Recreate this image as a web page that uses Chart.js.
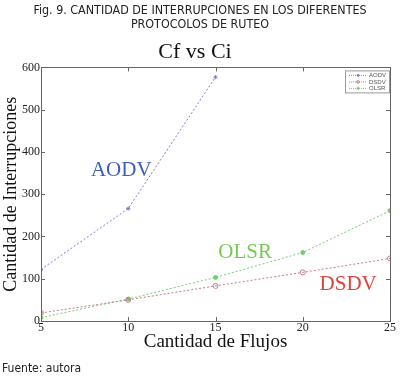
<!DOCTYPE html>
<html>
<head>
<meta charset="utf-8">
<script src="https://cdn.jsdelivr.net/npm/chart.js@4.4.1/dist/chart.umd.min.js"></script>
<style>
  html, body { margin: 0; padding: 0; background: #fff; }
  #wrap { position: relative; width: 400px; height: 376px; overflow: hidden; }
  #grafico { position: absolute; left: 0; top: 0; }
  .cab {
    position: absolute; left: 0; width: 400px; top: 3px;
    text-align: center; font-family: "Liberation Sans Narrow", "DejaVu Sans Condensed", "Liberation Sans", sans-serif;
    font-size: 12.4px; line-height: 14px; color: #222;
  }
  .fuente {
    position: absolute; left: 2px; top: 361px;
    font-family: "Liberation Sans Narrow", "DejaVu Sans Condensed", "Liberation Sans", sans-serif;
    font-size: 12px; color: #222;
  }
</style>
</head>
<body>
<div id="wrap">
  <canvas id="grafico" width="400" height="376"></canvas>
  <div class="cab">Fig. 9. CANTIDAD DE INTERRUPCIONES EN LOS DIFERENTES<br>PROTOCOLOS DE RUTEO</div>
  <div class="fuente">Fuente: autora</div>
</div>
<script>
// Datos
const flujos = [5, 10, 15, 20, 25];
const aodv = [122, 266, 577];
const dsdv = [19, 50, 83, 115, 148];
const olsr = [8, 52, 103, 162, 261];
const ticksX = [5, 10, 15, 20, 25];
const ticksY = [0, 100, 200, 300, 400, 500, 600];

// Etiquetas dentro del gráfico (coordenadas en datos)
const etiquetas = [
  { texto: 'AODV', x: 9.6, y: 357, color: '#3b5fc0' },
  { texto: 'OLSR', x: 16.7, y: 161, color: '#77c957' },
  { texto: 'DSDV', x: 22.6, y: 87, color: '#d9443f' }
];

const serif = '"Liberation Serif", "DejaVu Serif", serif';

const pares = (ys) => ys.map((v, i) => ({ x: flujos[i], y: v }));

const marcoPlugin = {
  id: 'marco',
  afterDatasetsDraw(chart) {
    const c = chart.ctx;
    const a = chart.chartArea;
    const sx = chart.scales.x, sy = chart.scales.y;
    c.save();
    // caja
    c.strokeStyle = '#666';
    c.lineWidth = 1;
    c.strokeRect(Math.round(a.left) + 0.5, Math.round(a.top) + 0.5, Math.round(a.right - a.left), Math.round(a.bottom - a.top));
    // marcas hacia adentro
    c.beginPath();
    ticksX.forEach(t => {
      const px = Math.round(sx.getPixelForValue(t)) + 0.5;
      c.moveTo(px, a.bottom); c.lineTo(px, a.bottom - 4);
      c.moveTo(px, a.top); c.lineTo(px, a.top + 4);
    });
    ticksY.forEach(t => {
      const py = Math.round(sy.getPixelForValue(t)) + 0.5;
      c.moveTo(a.left, py); c.lineTo(a.left + 4, py);
      c.moveTo(a.right, py); c.lineTo(a.right - 4, py);
    });
    c.stroke();
    // etiquetas de protocolos
    c.font = '21px ' + serif;
    c.textAlign = 'center';
    c.textBaseline = 'middle';
    etiquetas.forEach(e => {
      c.fillStyle = e.color;
      c.fillText(e.texto, sx.getPixelForValue(e.x), sy.getPixelForValue(e.y));
    });
    // leyenda pequeña
    const bx = a.right - 45, by = a.top + 3, bw = 45, bh = 23;
    c.fillStyle = '#fff';
    c.fillRect(bx, by, bw, bh);
    c.strokeStyle = '#999';
    c.strokeRect(bx + 0.5, by + 0.5, bw - 1, bh - 1);
    c.font = '6px "Liberation Sans", sans-serif';
    c.textAlign = 'left';
    chart.data.datasets.forEach((ds, i) => {
      const ly = by + 5 + i * 6.5;
      c.strokeStyle = ds.borderColor;
      c.setLineDash([1, 1]);
      c.beginPath(); c.moveTo(bx + 4, ly); c.lineTo(bx + 22, ly); c.stroke();
      c.setLineDash([]);
      c.beginPath(); c.arc(bx + 13, ly, 1.3, 0, Math.PI * 2);
      if (i === 1) { c.stroke(); } else { c.fillStyle = ds.borderColor; c.fill(); }
      c.fillStyle = '#555';
      c.fillText(ds.label, bx + 24, ly);
    });
    c.restore();
  }
};

new Chart(document.getElementById('grafico').getContext('2d'), {
  type: 'line',
  data: {
    datasets: [
      {
        label: 'AODV',
        data: pares(aodv),
        borderColor: '#7b7fd6',
        backgroundColor: '#7b7fd6',
        borderWidth: 1,
        borderDash: [2, 2],
        pointStyle: 'star',
        pointRadius: 2,
        tension: 0
      },
      {
        label: 'DSDV',
        data: pares(dsdv),
        borderColor: '#c77b88',
        backgroundColor: 'rgba(0,0,0,0)',
        borderWidth: 1,
        borderDash: [2, 2],
        pointStyle: 'circle',
        pointRadius: 2.5,
        tension: 0
      },
      {
        label: 'OLSR',
        data: pares(olsr),
        borderColor: '#6fd06a',
        backgroundColor: '#6fd06a',
        borderWidth: 1,
        borderDash: [2, 2],
        pointStyle: 'circle',
        pointRadius: 2,
        tension: 0
      }
    ]
  },
  options: {
    responsive: false,
    animation: false,
    layout: { padding: { top: 39, right: 10, left: 0, bottom: 20 } },
    plugins: {
      legend: { display: false },
      tooltip: { enabled: false },
      title: {
        display: true,
        text: 'Cf vs Ci',
        color: '#111',
        font: { family: serif, size: 22, weight: 'normal' },
        padding: { top: 0, bottom: 2 }
      }
    },
    scales: {
      x: {
        type: 'linear',
        min: 5, max: 25,
        afterFit: (s) => { s.height = 35; },
        afterBuildTicks: (s) => { s.ticks = ticksX.map(v => ({ value: v })); },
        grid: { display: false, drawTicks: false, tickLength: 0 },
        border: { display: false },
        ticks: { color: '#222', padding: 0, font: { family: serif, size: 12 } },
        title: {
          display: true, text: 'Cantidad de Flujos', color: '#111',
          font: { family: serif, size: 19 }, padding: { top: 0, bottom: 3 }
        }
      },
      y: {
        min: 0, max: 600,
        afterFit: (s) => { s.width = 41; },
        afterBuildTicks: (s) => { s.ticks = ticksY.map(v => ({ value: v })); },
        grid: { display: false, drawTicks: false, tickLength: 0 },
        border: { display: false },
        ticks: { color: '#222', padding: 1, font: { family: serif, size: 12 } },
        title: {
          display: true, text: 'Cantidad de Interrupciones', color: '#111',
          font: { family: serif, size: 18 }, padding: { top: 0, bottom: 0 }
        }
      }
    }
  },
  plugins: [marcoPlugin]
});
</script>
</body>
</html>
